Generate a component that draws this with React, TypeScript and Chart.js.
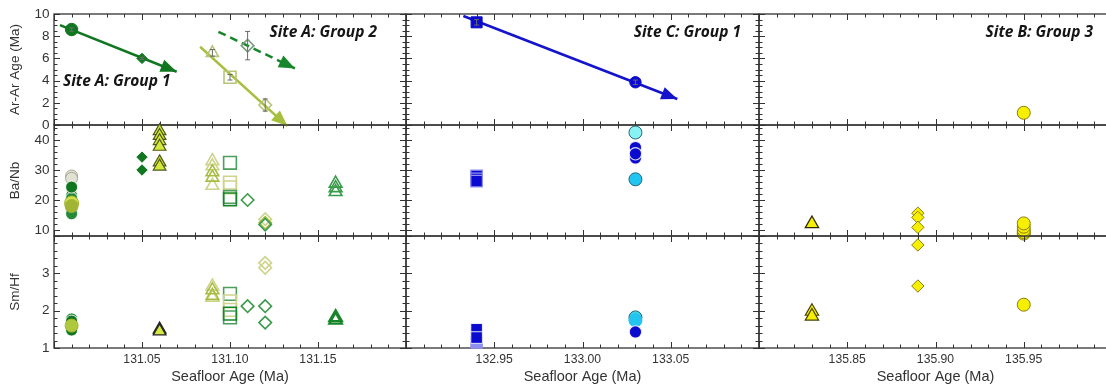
import React, { useEffect, useRef } from 'react';
import { Chart, registerables } from 'chart.js';
Chart.register(...registerables);

// ---------------- categories / tick labels ----------------
const siteAAges = [131.01, 131.05, 131.06, 131.09, 131.1, 131.11, 131.12, 131.16];
const siteCAges = [132.94, 133.03];
const siteBAges = [135.83, 135.89, 135.95];

const xTicksA = [131.05, 131.1, 131.15];
const xTicksC = [132.95, 133.0, 133.05];
const xTicksB = [135.85, 135.9, 135.95];
const arTicks = [0, 2, 4, 6, 8, 10];
const baTicks = [10, 20, 30, 40];
const smTicks = [1, 2, 3];

// ---------------- Ar-Ar ages (Ma) ----------------
const arA1Circle = [8.6];
const arA1CircleErr = [0.15];
const arA1Diamond = [6.0];
const arA1DiamondErr = [0.1];
const arA1TrendAge = [131.0034, 131.0697];
const arA1Trend = [9.0, 4.8];
const arA2Triangle = [6.5];
const arA2TriangleErr = [0.3];
const arA2Square = [4.3];
const arA2SquareErr = [0.25];
const arA2Diamond = [1.8];
const arA2DiamondErr = [0.55];
const arA2TrendAge = [131.083, 131.1326];
const arA2Trend = [7.05, -0.1];
const arA2bDiamond = [7.15];
const arA2bDiamondErr = [1.28];
const arA2bTrendAge = [131.0934, 131.1369];
const arA2bTrend = [8.4, 5.1];
const arCSquare = [9.25];
const arCSquareErr = [0.25];
const arCCircle = [3.85];
const arCCircleErr = [0.2];
const arCTrendAge = [132.9325, 133.0537];
const arCTrend = [9.82, 2.34];
const arBCircle = [1.1];

// ---------------- Ba/Nb ----------------
const baAGreenCircles = [21.5, 20.6, 16.6, 15.4];
const baAPaleCircles = [28.0, 27.2];
const baADarkCircles = [24.3];
const baAYellowCircles = [19.0];
const baAOliveCircles = [18.0];
const baADiamonds = [34.3, 30.0];
const baATriangles = [43.0, 41.4, 39.7, 37.8, 32.6, 31.2];
const baAOpenTriPale = [33.0, 31.3, 24.8];
const baAOpenTriOlive = [29.3, 27.5];
const baAOpenSqGreen = [32.4, 21.0];
const baAOpenSqPale = [25.8, 24.2];
const baAOpenSqDark = [20.2];
const baAOpenDia111 = [20.0];
const baAOpenDia112Pale = [13.6];
const baAOpenDia112Olive = [12.4];
const baAOpenDia112Green = [11.8];
const baAOpenTri116 = [25.5, 24.0, 22.7];
const baCSquares = [28.0, 27.0, 26.3];
const baCLightCyan = [42.5];
const baCBlueCircles = [37.5, 34.0, 35.4];
const baCCyan = [26.9];
const baBTriangle = [12.1];
const baBDiamonds = [15.6, 14.2, 10.9];
const baBCircles = [8.8, 9.3, 10.0, 11.1, 12.2];

// ---------------- Sm/Hf ----------------
const smAGreenCircles = [1.78, 1.55];
const smADarkCircles = [1.72, 1.48];
const smAOliveCircles = [1.6];
const smATriangles = [1.5, 1.45];
const smAOpenTriPale = [2.65, 2.35];
const smAOpenTriOlive = [2.55, 2.4];
const smAOpenSqGreen = [2.45, 1.82];
const smAOpenSqPale = [2.25, 2.02];
const smAOpenSqDark = [1.92];
const smAOpenDia111 = [2.12];
const smAOpenDia112Pale = [3.28, 3.15];
const smAOpenDia112Green = [2.12, 1.68];
const smAOpenTri116 = [1.82, 1.75];
const smCSquares = [1.5, 1.28];
const smCSquaresLight = [1.15];
const smCCyanDark = [1.82];
const smCCyan = [1.74];
const smCBlue = [1.43];
const smBTriangles = [1.98, 1.85];
const smBDiamonds = [3.76, 2.66];
const smBCircle = [2.16];

// ---------------- layout & style ----------------
const COL_L = [54, 406, 759];
const COL_W = [352, 353, 353];
const ROW_T = [14, 125, 236];
const ROW_H = [111, 111, 112];
const M = { l: 54, r: 30, t: 14, b: 40 };
const X_RANGE = [[131.0, 131.2], [132.9, 133.1], [135.8, 136.0]];
const Y_RANGE = [[0, 10], [8, 45], [1, 4]];
const X_TICKS = [xTicksA, xTicksC, xTicksB];
const Y_TICKS = [arTicks, baTicks, smTicks];
const Y_MAJOR = [2, 10, 1];
const Y_MINOR = [0.5, 2, 0.2];
const Y_TITLES = ['Ar-Ar Age (Ma)', 'Ba/Nb', 'Sm/Hf'];
const FONT = "'Liberation Sans', Arial, Helvetica, sans-serif";
const LABEL_FONT = "italic bold 15.5px 'Open Sans', Lato, sans-serif";
const INK = '#333333';

const C = {
  dark: '#10761f',
  green: '#25893a',
  pale: '#e2e2d4',
  paleEdge: '#a9a994',
  yellowGreen: '#cfe04a',
  olive: '#a2b533',
  triFill: '#d6e83e',
  triEdge: '#4d5a12',
  openPale: '#cdd38a',
  openOlive: '#a9bd45',
  openGreen: '#4e9e5e',
  openDark: '#17862a',
  diaGreen: '#3a9a4a',
  trendA2: '#a6c03e',
  grayDia: '#7c9c80',
  blue: '#0b0bcf',
  blueLight: '#9090f0',
  lightCyan: '#88f2f4',
  cyan: '#22c4f0',
  cyanEdge: '#22687a',
  yellow: '#f7ef00',
  yellowEdge: '#8a7e0a',
  white: 'rgba(255,255,255,0.85)',
  none: 'rgba(0,0,0,0)',
};

const mark = (style: string, r: number, fill: string, stroke: string, bw = 1) => ({
  pointStyle: style,
  pointRadius: r,
  pointHoverRadius: r,
  pointBackgroundColor: fill,
  pointBorderColor: stroke,
  pointBorderWidth: bw,
  backgroundColor: fill,
  borderColor: stroke,
  showLine: false,
});
const open = (style: string, r: number, stroke: string, bw = 1.6) => mark(style, r, C.none, stroke, bw);

const pts = (age: number, ys: number[], opts: any, err?: number[]) => ({
  data: ys.map((y) => ({ x: age, y })),
  clip: false,
  errY: err,
  ...opts,
});
const trend = (ages: number[], ys: number[], color: string, dash: number[] = []) => ({
  data: ys.map((y, i) => ({ x: ages[i], y })),
  clip: false,
  showLine: true,
  pointRadius: 0,
  pointHoverRadius: 0,
  borderColor: color,
  backgroundColor: color,
  borderWidth: 2.5,
  borderDash: dash,
  arrow: true,
});

// ---------------- panels ----------------
const PANELS: any[] = [
  {
    row: 0, col: 0,
    labels: [
      { text: 'Site A: Group 1', x: 131.0051, y: 3.5, align: 'left' },
      { text: 'Site A: Group 2', x: 131.1835, y: 7.95, align: 'right' },
    ],
    datasets: [
      trend(arA1TrendAge, arA1Trend, C.dark),
      trend(arA2TrendAge, arA2Trend, C.trendA2),
      trend(arA2bTrendAge, arA2bTrend, C.openDark, [8, 5]),
      pts(siteAAges[0], arA1Circle, mark('circle', 6.2, C.dark, C.dark), arA1CircleErr),
      pts(siteAAges[1], arA1Diamond, mark('rectRot', 5.2, C.dark, C.dark), arA1DiamondErr),
      pts(siteAAges[3], arA2Triangle, open('triangle', 7, '#b8c478'), arA2TriangleErr),
      pts(siteAAges[4], arA2Square, open('rect', 8.5, '#b8c478'), arA2SquareErr),
      pts(siteAAges[6], arA2Diamond, open('rectRot', 6.3, '#b8c478'), arA2DiamondErr),
      pts(siteAAges[5], arA2bDiamond, open('rectRot', 6.3, C.grayDia), arA2bDiamondErr),
    ],
  },
  {
    row: 1, col: 0,
    datasets: [
      pts(siteAAges[0], baAGreenCircles, mark('circle', 6, C.green, C.white)),
      pts(siteAAges[0], baAPaleCircles, mark('circle', 6, C.pale, C.paleEdge)),
      pts(siteAAges[0], baADarkCircles, mark('circle', 6, C.dark, C.white)),
      pts(siteAAges[0], baAYellowCircles, mark('circle', 7, C.yellowGreen, C.olive)),
      pts(siteAAges[0], baAOliveCircles, mark('circle', 6.5, C.olive, C.olive)),
      pts(siteAAges[1], baADiamonds, mark('rectRot', 5.2, C.dark, C.dark)),
      pts(siteAAges[2], baATriangles, mark('triangle', 7.3, C.triFill, C.triEdge, 1.2)),
      pts(siteAAges[3], baAOpenTriPale, open('triangle', 7.3, C.openPale)),
      pts(siteAAges[3], baAOpenTriOlive, open('triangle', 7.3, C.openOlive)),
      pts(siteAAges[4], baAOpenSqPale, open('rect', 9, C.openPale)),
      pts(siteAAges[4], baAOpenSqGreen, open('rect', 9, C.openGreen)),
      pts(siteAAges[4], baAOpenSqDark, open('rect', 9, C.openDark)),
      pts(siteAAges[5], baAOpenDia111, open('rectRot', 6.2, C.diaGreen)),
      pts(siteAAges[6], baAOpenDia112Pale, open('rectRot', 6.2, C.openPale)),
      pts(siteAAges[6], baAOpenDia112Olive, open('rectRot', 6.2, C.openOlive)),
      pts(siteAAges[6], baAOpenDia112Green, open('rectRot', 6.2, C.diaGreen)),
      pts(siteAAges[7], baAOpenTri116, open('triangle', 7.3, C.diaGreen)),
    ],
  },
  {
    row: 2, col: 0,
    datasets: [
      pts(siteAAges[0], smAGreenCircles, mark('circle', 6, C.green, C.white)),
      pts(siteAAges[0], smADarkCircles, mark('circle', 6, C.dark, C.white)),
      pts(siteAAges[0], smAOliveCircles, mark('circle', 6.5, '#b0c83c', C.olive)),
      pts(siteAAges[2], smATriangles, mark('triangle', 7.3, C.triFill, '#222222', 1.3)),
      pts(siteAAges[3], smAOpenTriPale, open('triangle', 7.3, C.openPale)),
      pts(siteAAges[3], smAOpenTriOlive, open('triangle', 7.3, C.openOlive)),
      pts(siteAAges[4], smAOpenSqGreen, open('rect', 9, C.openGreen)),
      pts(siteAAges[4], smAOpenSqPale, open('rect', 9, C.openPale)),
      pts(siteAAges[4], smAOpenSqDark, open('rect', 9, C.openDark)),
      pts(siteAAges[5], smAOpenDia111, open('rectRot', 6.3, C.diaGreen)),
      pts(siteAAges[6], smAOpenDia112Pale, open('rectRot', 6.3, C.openPale)),
      pts(siteAAges[6], smAOpenDia112Green, open('rectRot', 6.3, C.diaGreen)),
      pts(siteAAges[7], smAOpenTri116, open('triangle', 7.3, C.openDark, 2.2)),
    ],
  },
  {
    row: 0, col: 1,
    labels: [{ text: 'Site C: Group 1', x: 133.0898, y: 7.95, align: 'right' }],
    datasets: [
      trend(arCTrendAge, arCTrend, '#1414cc'),
      pts(siteCAges[0], arCSquare, mark('rect', 7.8, C.blue, C.blue), arCSquareErr),
      pts(siteCAges[1], arCCircle, mark('circle', 5.7, C.blue, C.blue), arCCircleErr),
    ],
  },
  {
    row: 1, col: 1,
    datasets: [
      pts(siteCAges[0], baCSquares, mark('rect', 8.2, C.blue, C.blueLight, 1.2)),
      pts(siteCAges[1], baCLightCyan, mark('circle', 6.5, C.lightCyan, C.cyanEdge)),
      pts(siteCAges[1], baCBlueCircles, mark('circle', 6.2, C.blue, C.white, 1.2)),
      pts(siteCAges[1], baCCyan, mark('circle', 6.5, C.cyan, C.cyanEdge)),
    ],
  },
  {
    row: 2, col: 1,
    datasets: [
      pts(siteCAges[0], smCSquaresLight, mark('rect', 8.2, C.blueLight, C.blueLight, 1)),
      pts(siteCAges[0], smCSquares, mark('rect', 8.2, C.blue, C.white, 1)),
      pts(siteCAges[1], smCCyanDark, mark('circle', 6.5, '#3ad0e8', C.cyanEdge)),
      pts(siteCAges[1], smCCyan, mark('circle', 6.5, C.cyan, C.cyan)),
      pts(siteCAges[1], smCBlue, mark('circle', 6.2, C.blue, C.white, 1.2)),
    ],
  },
  {
    row: 0, col: 2,
    labels: [{ text: 'Site B: Group 3', x: 135.9892, y: 7.95, align: 'right' }],
    datasets: [pts(siteBAges[2], arBCircle, mark('circle', 6.5, C.yellow, C.yellowEdge))],
  },
  {
    row: 1, col: 2,
    datasets: [
      pts(siteBAges[0], baBTriangle, mark('triangle', 7.7, C.yellow, '#2e2a00', 1.3)),
      pts(siteBAges[1], baBDiamonds, mark('rectRot', 6.2, C.yellow, C.yellowEdge)),
      pts(siteBAges[2], baBCircles, mark('circle', 6.5, C.yellow, C.yellowEdge)),
    ],
  },
  {
    row: 2, col: 2,
    datasets: [
      pts(siteBAges[0], smBTriangles, mark('triangle', 7.7, C.yellow, '#4a4200', 1.2)),
      pts(siteBAges[1], smBDiamonds, mark('rectRot', 6.2, C.yellow, C.yellowEdge)),
      pts(siteBAges[2], smBCircle, mark('circle', 6.5, C.yellow, C.yellowEdge)),
    ],
  },
];

// ---------------- helpers / plugins ----------------
function steps(min: number, max: number, step: number) {
  const out: number[] = [];
  const a = Math.ceil(min / step - 1e-9);
  const b = Math.floor(max / step + 1e-9);
  for (let k = a; k <= b; k++) out.push(+(k * step).toFixed(6));
  return out;
}
const isMult = (v: number, step: number) => Math.abs(v / step - Math.round(v / step)) < 1e-6;

function makePlugins(row: number, col: number, labels: any[]) {
  const frame = {
    id: 'frame',
    beforeDatasetsDraw(chart: any) {
      const { ctx, chartArea: a, scales } = chart;
      const x = scales.x, y = scales.y;
      ctx.save();
      ctx.strokeStyle = INK;
      ctx.lineWidth = 1;
      ctx.beginPath();
      const [x0, x1] = X_RANGE[col];
      steps(x0, x1, 0.01).forEach((v) => {
        const len = isMult(v, 0.05) ? 6 : 3.5;
        const px = Math.round(x.getPixelForValue(v)) + 0.5;
        ctx.moveTo(px, a.top); ctx.lineTo(px, a.top + len);
        ctx.moveTo(px, a.bottom); ctx.lineTo(px, a.bottom - len);
      });
      const [y0, y1] = Y_RANGE[row];
      steps(y0, y1, Y_MINOR[row]).forEach((v) => {
        const len = isMult(v, Y_MAJOR[row]) ? 6 : 3.5;
        const py = Math.round(y.getPixelForValue(v)) + 0.5;
        ctx.moveTo(a.left, py); ctx.lineTo(a.left + len, py);
        ctx.moveTo(a.right, py); ctx.lineTo(a.right - len, py);
      });
      ctx.stroke();
      ctx.lineWidth = 1.3;
      ctx.strokeRect(a.left, a.top, a.right - a.left, a.bottom - a.top);
      ctx.restore();
    },
  };
  const extras = {
    id: 'extras',
    afterDatasetsDraw(chart: any) {
      const { ctx, scales } = chart;
      const y = scales.y, x = scales.x;
      ctx.save();
      chart.data.datasets.forEach((ds: any, i: number) => {
        const meta = chart.getDatasetMeta(i);
        if (ds.errY) {
          ctx.strokeStyle = '#6a6a6a';
          ctx.lineWidth = 1;
          ctx.beginPath();
          ds.data.forEach((d: any, j: number) => {
            const e = ds.errY[j];
            const px = meta.data[j].x;
            const t = y.getPixelForValue(d.y + e), b = y.getPixelForValue(d.y - e);
            ctx.moveTo(px, t); ctx.lineTo(px, b);
            ctx.moveTo(px - 2.5, t); ctx.lineTo(px + 2.5, t);
            ctx.moveTo(px - 2.5, b); ctx.lineTo(px + 2.5, b);
          });
          ctx.stroke();
        }
        if (ds.arrow) {
          const n = meta.data.length;
          const p1 = meta.data[n - 2], p2 = meta.data[n - 1];
          const ang = Math.atan2(p2.y - p1.y, p2.x - p1.x);
          const L = 16, W = 6.5;
          ctx.fillStyle = ds.borderColor;
          ctx.beginPath();
          ctx.moveTo(p2.x, p2.y);
          ctx.lineTo(p2.x - L * Math.cos(ang) + W * Math.sin(ang), p2.y - L * Math.sin(ang) - W * Math.cos(ang));
          ctx.lineTo(p2.x - L * Math.cos(ang) - W * Math.sin(ang), p2.y - L * Math.sin(ang) + W * Math.cos(ang));
          ctx.closePath();
          ctx.fill();
        }
      });
      (labels || []).forEach((lb: any) => {
        ctx.font = LABEL_FONT;
        ctx.fillStyle = '#151515';
        ctx.textAlign = lb.align;
        ctx.textBaseline = 'alphabetic';
        ctx.fillText(lb.text, x.getPixelForValue(lb.x), y.getPixelForValue(lb.y));
      });
      ctx.restore();
    },
  };
  return [frame, extras];
}

function buildConfig(p: any) {
  const { row, col, datasets, labels } = p;
  const ds = datasets.map((d: any, i: number) => ({ ...d, order: -i }));
  return {
    type: 'scatter',
    data: { datasets: ds },
    options: {
      responsive: false,
      animation: false,
      devicePixelRatio: 1,
      events: [],
      layout: { padding: { top: M.t, right: M.r, left: 0, bottom: 0 } },
      plugins: { legend: { display: false }, tooltip: { enabled: false } },
      scales: {
        x: {
          type: 'linear',
          min: X_RANGE[col][0],
          max: X_RANGE[col][1],
          grid: { display: false, drawTicks: false },
          border: { display: false },
          afterBuildTicks: (s: any) => { s.ticks = X_TICKS[col].map((v) => ({ value: v })); },
          afterFit: (s: any) => { s.height = M.b; },
          ticks: {
            display: row === 2,
            autoSkip: false,
            maxRotation: 0,
            padding: 4,
            color: INK,
            font: { family: FONT, size: 12.2 },
            callback: (v: any) => Number(v).toFixed(2),
          },
          title: {
            display: row === 2,
            text: 'Seafloor Age (Ma)',
            color: INK,
            font: { family: FONT, size: 14.5 },
            padding: { top: 0, bottom: 2.5 },
          },
        },
        y: {
          type: 'linear',
          min: Y_RANGE[row][0],
          max: Y_RANGE[row][1],
          grid: { display: false, drawTicks: false },
          border: { display: false },
          afterBuildTicks: (s: any) => { s.ticks = Y_TICKS[row].map((v) => ({ value: v })); },
          afterFit: (s: any) => { s.width = M.l; },
          ticks: {
            display: col === 0,
            autoSkip: false,
            padding: 4.5,
            color: INK,
            font: { family: FONT, size: 13.5 },
            callback: (v: any) => String(v),
          },
          title: {
            display: col === 0,
            text: Y_TITLES[row],
            color: INK,
            font: { family: FONT, size: 13.5 },
            padding: { top: 7.5, bottom: 0 },
          },
        },
      },
    },
    plugins: makePlugins(row, col, labels),
  };
}

function Panel({ panel }: { panel: any }) {
  const ref = useRef<HTMLCanvasElement | null>(null);
  useEffect(() => {
    const chart = new Chart(ref.current as any, buildConfig(panel) as any);
    return () => chart.destroy();
  }, [panel]);
  const w = COL_W[panel.col] + M.l + M.r;
  const h = ROW_H[panel.row] + M.t + M.b;
  return (
    <canvas
      ref={ref}
      width={w}
      height={h}
      style={{ position: 'absolute', left: COL_L[panel.col] - M.l, top: ROW_T[panel.row] - M.t, width: w, height: h }}
    />
  );
}

export default function App() {
  return (
    <div
      style={{
        position: 'absolute',
        left: 0,
        top: 0,
        width: 1106,
        height: 387,
        overflow: 'hidden',
        background: '#ffffff',
      }}
    >
      {PANELS.map((p, i) => (
        <Panel key={i} panel={p} />
      ))}
    </div>
  );
}
